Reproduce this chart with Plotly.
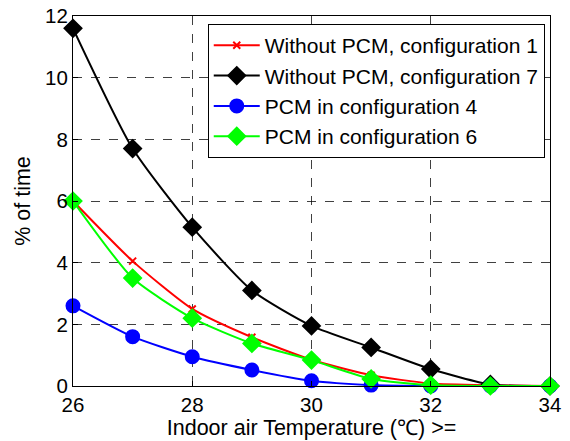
import plotly.graph_objects as go

temps = [26, 27, 28, 29, 30, 31, 32, 33, 34]
no_pcm_cfg1 = [6.0, 4.05, 2.5, 1.58, 0.85, 0.35, 0.08, 0.02, 0.0]
no_pcm_cfg7 = [11.6, 7.7, 5.15, 3.1, 1.95, 1.25, 0.55, 0.05, 0.0]
pcm_cfg4 = [2.6, 1.6, 0.95, 0.52, 0.17, 0.03, 0.0, 0.0, 0.0]
pcm_cfg6 = [6.0, 3.5, 2.2, 1.38, 0.84, 0.23, 0.03, 0.0, 0.0]

series = [
    ("Without PCM, configuration 1", no_pcm_cfg1, "#ff0000", "x-thin", 7),
    ("Without PCM, configuration 7", no_pcm_cfg7, "#000000", "diamond", 13),
    ("PCM in configuration 4", pcm_cfg4, "#0000ff", "circle", 13),
    ("PCM in configuration 6", pcm_cfg6, "#00ff00", "diamond", 13),
]

FONT = "Liberation Sans, Arial"
fig = go.Figure()
for name, vals, col, sym, sz in series:
    fig.add_trace(go.Scatter(
        x=temps, y=vals, name=name, mode="lines+markers",
        line=dict(color=col, width=2, shape="spline", smoothing=0.6),
        marker=dict(symbol=sym, size=sz, color=col,
                    line=dict(color=col, width=2)),
        cliponaxis=False,
    ))

axis_common = dict(
    showline=True, linecolor="black", linewidth=1, mirror=True,
    ticks="inside", ticklen=5, tickcolor="black",
    showgrid=True, gridcolor="rgba(0,0,0,0.75)", griddash="dash", gridwidth=1,
    zeroline=False, automargin=False, ticklabeloverflow="allow",
    tickfont=dict(family=FONT, size=20.5, color="black"),
)

# page body has an 8px default margin, so the figure is offset by 8px
fig.update_layout(
    width=562, height=433,
    margin=dict(l=65, r=20, t=8, b=55),
    paper_bgcolor="white", plot_bgcolor="white",
    font=dict(family=FONT, size=20, color="black"),
    xaxis=dict(range=[26, 34], dtick=2,
               title=dict(text="Indoor air Temperature (℃) >=", standoff=2,
                          font=dict(size=21.5)),
               **axis_common),
    yaxis=dict(range=[0, 12], dtick=2,
               title=dict(text="% of time", standoff=8, font=dict(size=21.5)),
               **axis_common),
    legend=dict(x=0.989, y=0.978, xanchor="right", yanchor="top",
                bgcolor="white", bordercolor="black", borderwidth=1,
                font=dict(size=21), itemwidth=46, tracegroupgap=0),
    showlegend=True,
)

fig.write_html("out.html")
